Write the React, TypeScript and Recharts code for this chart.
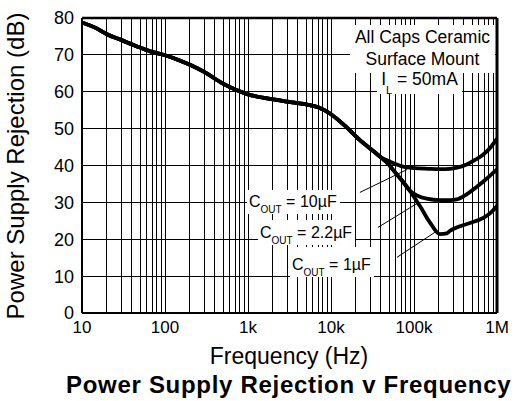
import { LineChart, Line, XAxis, YAxis, CartesianGrid, ReferenceLine } from "recharts";

const FONT = '"Liberation Sans", Arial, Helvetica, sans-serif';

// ── Data ──────────────────────────────────────────────────────────────────────

// shared part of the three curves, 10 Hz → 40 kHz
const COMMON_HZ = [10, 15, 20, 30, 50, 70, 100, 150, 200, 300, 500, 700, 1000, 1500, 2000, 3000, 5000, 7000, 10000, 15000, 22000, 32000, 40000];
const COMMON_DB = [78.8, 77.2, 75.6, 74.0, 72.0, 70.8, 69.9, 68.5, 67.3, 65.3, 62.2, 60.6, 59.3, 58.4, 57.9, 57.3, 56.6, 55.8, 53.9, 50.6, 47.0, 44.0, 42.2];

const TAIL_HZ_10U = [50000, 56000, 74000, 100000, 150000, 205000, 272000, 330000, 431000, 550000, 684000, 850000, 1000000];
const TAIL_DB_10U = [41.2, 40.7, 39.7, 39.3, 39.1, 39.0, 39.1, 39.4, 40.3, 41.6, 43.0, 45.1, 47.3];

const TAIL_HZ_2U2 = [50000, 56000, 70000, 89500, 108000, 142000, 205000, 272000, 327000, 431000, 624000, 800000, 1000000];
const TAIL_DB_2U2 = [40.2, 38.8, 36.2, 33.1, 31.9, 31.0, 30.6, 30.6, 30.8, 32.2, 34.9, 37.0, 38.9];

const TAIL_HZ_1U = [50000, 56000, 70000, 89500, 108000, 118000, 156000, 205000, 248000, 272000, 327000, 473000, 684000, 850000, 1000000];
const TAIL_DB_1U = [40.2, 38.8, 36.2, 33.1, 30.3, 29.0, 24.5, 21.4, 21.6, 22.3, 23.2, 24.4, 25.8, 27.3, 29.0];

const DECADES = [10, 100, 1000, 10000, 100000, 1000000];
const DECADE_LABELS = ["10", "100", "1k", "10k", "100k", "1M"];
const MINOR_STEPS = [1, 2, 3, 4, 5, 6, 7, 8, 9];
const Y_TICKS = [0, 10, 20, 30, 40, 50, 60, 70, 80];

// leader lines: label → curve  [hz, dB]
const LEADER_10U = [[22300, 32.7], [82400, 38.9]];
const LEADER_2U2 = [[36800, 23.2], [108600, 29.7]];
const LEADER_1U = [[62400, 15.1], [179000, 21.9]];

const X_TICKS = DECADES.slice(0, -1).flatMap((d) => MINOR_STEPS.map((m) => m * d)).concat([1000000]);

function build(hz: number[], db: number[]) {
  return hz.map((f, i) => ({ hz: f, db: db[i] }));
}

const SERIES = [
  { key: "10u", data: build([...COMMON_HZ, ...TAIL_HZ_10U], [...COMMON_DB, ...TAIL_DB_10U]) },
  { key: "2u2", data: build([...COMMON_HZ, ...TAIL_HZ_2U2], [...COMMON_DB, ...TAIL_DB_2U2]) },
  { key: "1u", data: build([...COMMON_HZ, ...TAIL_HZ_1U], [...COMMON_DB, ...TAIL_DB_1U]) },
];

const fmtX = (v: number) => {
  const i = DECADES.indexOf(v);
  return i >= 0 ? DECADE_LABELS[i] : "";
};

const seg = (l: number[][]) => [{ x: l[0][0], y: l[0][1] }, { x: l[1][0], y: l[1][1] }];

// ── Sub-components ────────────────────────────────────────────────────────────

function Sub({ children, size = 10, drop = 6 }: { children: string; size?: number; drop?: number }) {
  return (
    <span style={{ fontSize: size, position: "relative", top: drop, lineHeight: 0 }}>{children}</span>
  );
}

function CoutLabel({ left, top, padTop, value }: { left: number; top: number; padTop: number; value: string }) {
  return (
    <div
      style={{
        position: "absolute", left, top, paddingTop: padTop, paddingLeft: 2, paddingRight: 3, paddingBottom: 3,
        background: "#fff", fontSize: 16, lineHeight: "19px", whiteSpace: "nowrap", color: "#000",
      }}
    >
      C<Sub>OUT</Sub> = {value}
    </div>
  );
}

export default function App() {
  return (
    <div style={{ position: "absolute", left: 0, top: 0, width: 514, height: 401, overflow: "hidden", background: "#fff", fontFamily: FONT, color: "#000" }}>
      <LineChart width={514} height={401} margin={{ top: 18, right: 17, bottom: 58, left: 0 }}>
        <CartesianGrid stroke="#000" strokeWidth={1} shapeRendering="crispEdges" />
        <XAxis
          type="number" dataKey="hz" scale="log" domain={[10, 1000000]} allowDataOverflow height={30}
          ticks={X_TICKS} interval={0} tickFormatter={fmtX} tickLine={false}
          axisLine={{ stroke: "#000", strokeWidth: 2 }}
          tick={{ fill: "#000", fontSize: 17, fontFamily: FONT }}
        />
        <YAxis
          type="number" domain={[0, 80]} ticks={Y_TICKS} interval={0} width={82} tickLine={false}
          axisLine={{ stroke: "#000", strokeWidth: 2 }}
          tick={{ fill: "#000", fontSize: 18, fontFamily: FONT }}
        />
        <ReferenceLine y={80} stroke="#000" strokeWidth={2.5} />
        <ReferenceLine x={1000000} stroke="#000" strokeWidth={3} />
        <ReferenceLine segment={seg(LEADER_10U)} stroke="#000" strokeWidth={1} />
        <ReferenceLine segment={seg(LEADER_2U2)} stroke="#000" strokeWidth={1} />
        <ReferenceLine segment={seg(LEADER_1U)} stroke="#000" strokeWidth={1} />
        {SERIES.map((s) => (
          <Line
            key={s.key} data={s.data} dataKey="db" type="monotone"
            stroke="#000" strokeWidth={3.8} dot={false} activeDot={false} isAnimationActive={false}
          />
        ))}
      </LineChart>

      {/* note box, top right */}
      <div style={{ position: "absolute", left: 350, top: 25, width: 145, height: 48, paddingTop: 2, boxSizing: "border-box", background: "#fff", fontSize: 17.5, lineHeight: "21.5px", textAlign: "center" }}>
        All Caps Ceramic
        <br />
        Surface Mount
      </div>
      <div style={{ position: "absolute", left: 377, top: 69, width: 85, height: 25, background: "#fff", fontSize: 17.5, lineHeight: "21.5px", textAlign: "center", whiteSpace: "nowrap" }}>
        I<Sub size={11} drop={9}>L</Sub> = 50mA
      </div>

      <CoutLabel left={247} top={190} padTop={2} value="10µF" />
      <CoutLabel left={258} top={220} padTop={3} value="2.2µF" />
      <CoutLabel left={290} top={247} padTop={8} value="1µF" />

      {/* axis titles */}
      <div style={{ position: "absolute", left: 16, top: 166, transform: "translate(-50%, -50%) rotate(-90deg)", fontSize: 24, lineHeight: "24px", whiteSpace: "nowrap" }}>
        Power Supply Rejection (dB)
      </div>
      <div style={{ position: "absolute", left: 289, top: 344.5, transform: "translateX(-50%)", fontSize: 23, lineHeight: "23px", whiteSpace: "nowrap" }}>
        Frequency (Hz)
      </div>
      <div style={{ position: "absolute", left: 66, top: 373, fontSize: 24, lineHeight: "24px", fontWeight: "bold", letterSpacing: 0.7, whiteSpace: "nowrap" }}>
        Power Supply Rejection v Frequency
      </div>
    </div>
  );
}
